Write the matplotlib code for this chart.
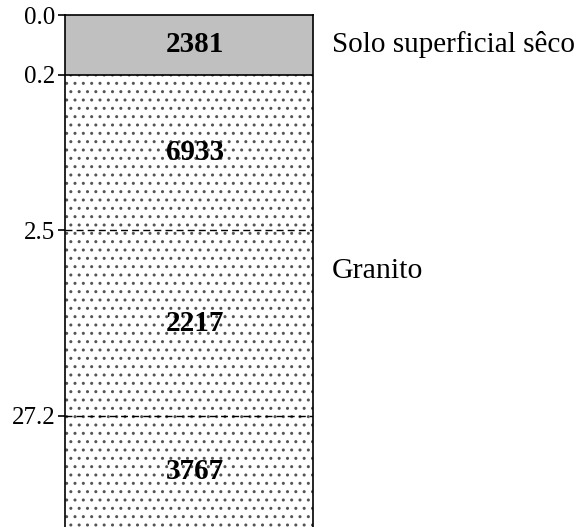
import numpy as np
import matplotlib.pyplot as plt

plt.rcParams['font.family'] = ['Liberation Serif', 'DejaVu Serif']

# Data
depth_top = [0.0, 0.2, 2.5, 27.2]
depth_bottom = [0.2, 2.5, 27.2, 110.0]
values = [2381, 6933, 2217, 3767]
materials = ["Solo superficial sêco", "Granito", "Granito", "Granito"]
tick_depths = [0.0, 0.2, 2.5, 27.2]
tick_labels = ["0.0", "0.2", "2.5", "27.2"]


def fwd(d):
    return np.log10(np.asarray(d) + 0.18)


def inv(y):
    return 10 ** np.asarray(y) - 0.18


fig = plt.figure(figsize=(5.84, 5.27), dpi=100)
ax = fig.add_axes([65 / 584, 0.0, 248 / 584, 1 - 15 / 527])
ax.set_yscale('function', functions=(fwd, inv))
ax.set_ylim(depth_bottom[-1], 0.0)
ax.set_xlim(0, 1)

for i, (top, bot, val) in enumerate(zip(depth_top, depth_bottom, values)):
    if i == 0:
        ax.bar(0.5, bot - top, bottom=top, width=1, color='#c0c0c0', lw=0)
    else:
        ax.bar(0.5, bot - top, bottom=top, width=1, facecolor='white',
               edgecolor='#555555', hatch='..', lw=0)
    mid = inv((fwd(top) + fwd(bot)) / 2)
    ax.text(0.525, mid, str(val), ha='center', va='center',
            fontsize=21, fontweight='bold')

# layer boundaries
ax.axhline(depth_top[1], color='black', lw=1.2)
for d in depth_top[2:]:
    ax.axhline(d, color='black', lw=1.0, ls=(0, (5, 3)))

# material names on the right
ax.text(1.077, inv((fwd(depth_top[0]) + fwd(depth_bottom[0])) / 2), materials[0],
        transform=ax.get_yaxis_transform(), ha='left', va='center', fontsize=21)
ax.text(1.077, 0.5, materials[1], transform=ax.transAxes,
        ha='left', va='center', fontsize=21.5)

ax.set_yticks(tick_depths)
ax.set_yticklabels(tick_labels, fontsize=18)
ax.yaxis.set_minor_locator(plt.NullLocator())
ax.set_xticks([])
ax.tick_params(axis='y', direction='out', length=5, width=1.2, pad=2)
ax.spines['bottom'].set_visible(False)
for s in ['left', 'right', 'top']:
    ax.spines[s].set_linewidth(1.2)

plt.savefig('out.png', dpi=100)
